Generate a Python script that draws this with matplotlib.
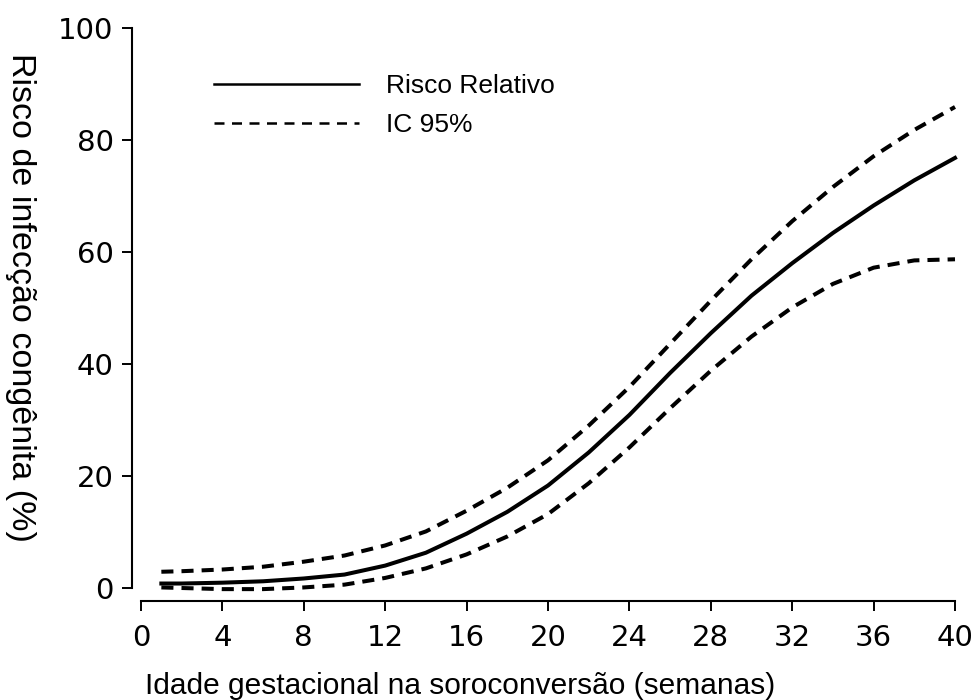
import matplotlib
matplotlib.use("Agg")
import matplotlib.pyplot as plt
from matplotlib.lines import Line2D

# values (weeks vs %)
weeks = [1, 2, 4, 6, 8, 10, 12, 14, 16, 18, 20, 22, 24, 26, 28, 30, 32, 34, 36, 38, 40]
risk = [0.8, 0.8, 0.95, 1.2, 1.7, 2.4, 4.0, 6.3, 9.7, 13.6, 18.3, 24.2, 30.9, 38.4,
        45.5, 52.2, 58.0, 63.4, 68.3, 72.8, 76.8]
ci_upper = [2.9, 3.0, 3.3, 3.8, 4.7, 5.8, 7.6, 10.1, 13.8, 17.9, 22.8, 29.0, 35.9, 43.6,
            51.3, 58.7, 65.5, 71.6, 77.1, 81.8, 85.9]
ci_lower = [0.1, 0.0, -0.2, -0.2, 0.1, 0.6, 1.8, 3.5, 6.0, 9.2, 13.2, 18.7, 25.1, 32.1,
            38.8, 44.9, 50.1, 54.3, 57.2, 58.5, 58.7]

xticks = [0, 4, 8, 12, 16, 20, 24, 28, 32, 36, 40]
yticks = [0, 20, 40, 60, 80, 100]

fig = plt.figure(figsize=(9.77, 7.0), dpi=100)
ax = fig.add_axes([141 / 977, 112 / 700, 814 / 977, 560 / 700])

dash = (0, (3, 2))
ax.plot(weeks, risk, "-", color="black", lw=2.9, clip_on=False,
        solid_joinstyle="round")
ax.plot(weeks, ci_upper, linestyle=dash, color="black", lw=2.9, clip_on=False)
ax.plot(weeks, ci_lower, linestyle=dash, color="black", lw=2.9, clip_on=False)

ax.set_xlim(0, 40)
ax.set_ylim(0, 100)
ax.set_xticks(xticks)
ax.set_yticks(yticks)

for s in ["top", "right"]:
    ax.spines[s].set_visible(False)
ax.spines["left"].set_position(("outward", 6.5))
ax.spines["bottom"].set_position(("outward", 9.4))
ax.spines["left"].set_linewidth(1.5)
ax.spines["bottom"].set_linewidth(1.5)

ax.tick_params(axis="both", direction="out", length=7.2, width=1.4, color="black")
ax.tick_params(axis="x", pad=9, labelsize=21)
ax.tick_params(axis="y", pad=6, labelsize=21)
for lab in ax.get_xticklabels() + ax.get_yticklabels():
    lab.set_fontfamily("DejaVu Sans")

fig.text(460 / 977, 6 / 700, "Idade gestacional na soroconversão (semanas)",
         ha="center", va="baseline", fontsize=21.5, family="Liberation Sans")
fig.text(20 / 977, 1 - 297 / 700, "Risco de infecção congênita (%)",
         ha="center", va="center", rotation=270, fontsize=24.5, family="Liberation Sans")

handles = [Line2D([], [], color="black", lw=1.8),
           Line2D([], [], color="black", lw=1.8, linestyle=(0, (4, 3)))]
leg = ax.legend(handles, ["Risco Relativo", "IC 95%"], loc="upper left",
                bbox_to_anchor=(214 / 977, 1 - 74 / 700), bbox_transform=fig.transFigure,
                frameon=False, borderpad=0, borderaxespad=0, handlelength=5.5,
                handletextpad=1.0, labelspacing=0.58,
                prop={"family": "Liberation Sans", "size": 19})

plt.savefig("out.png", dpi=100)
